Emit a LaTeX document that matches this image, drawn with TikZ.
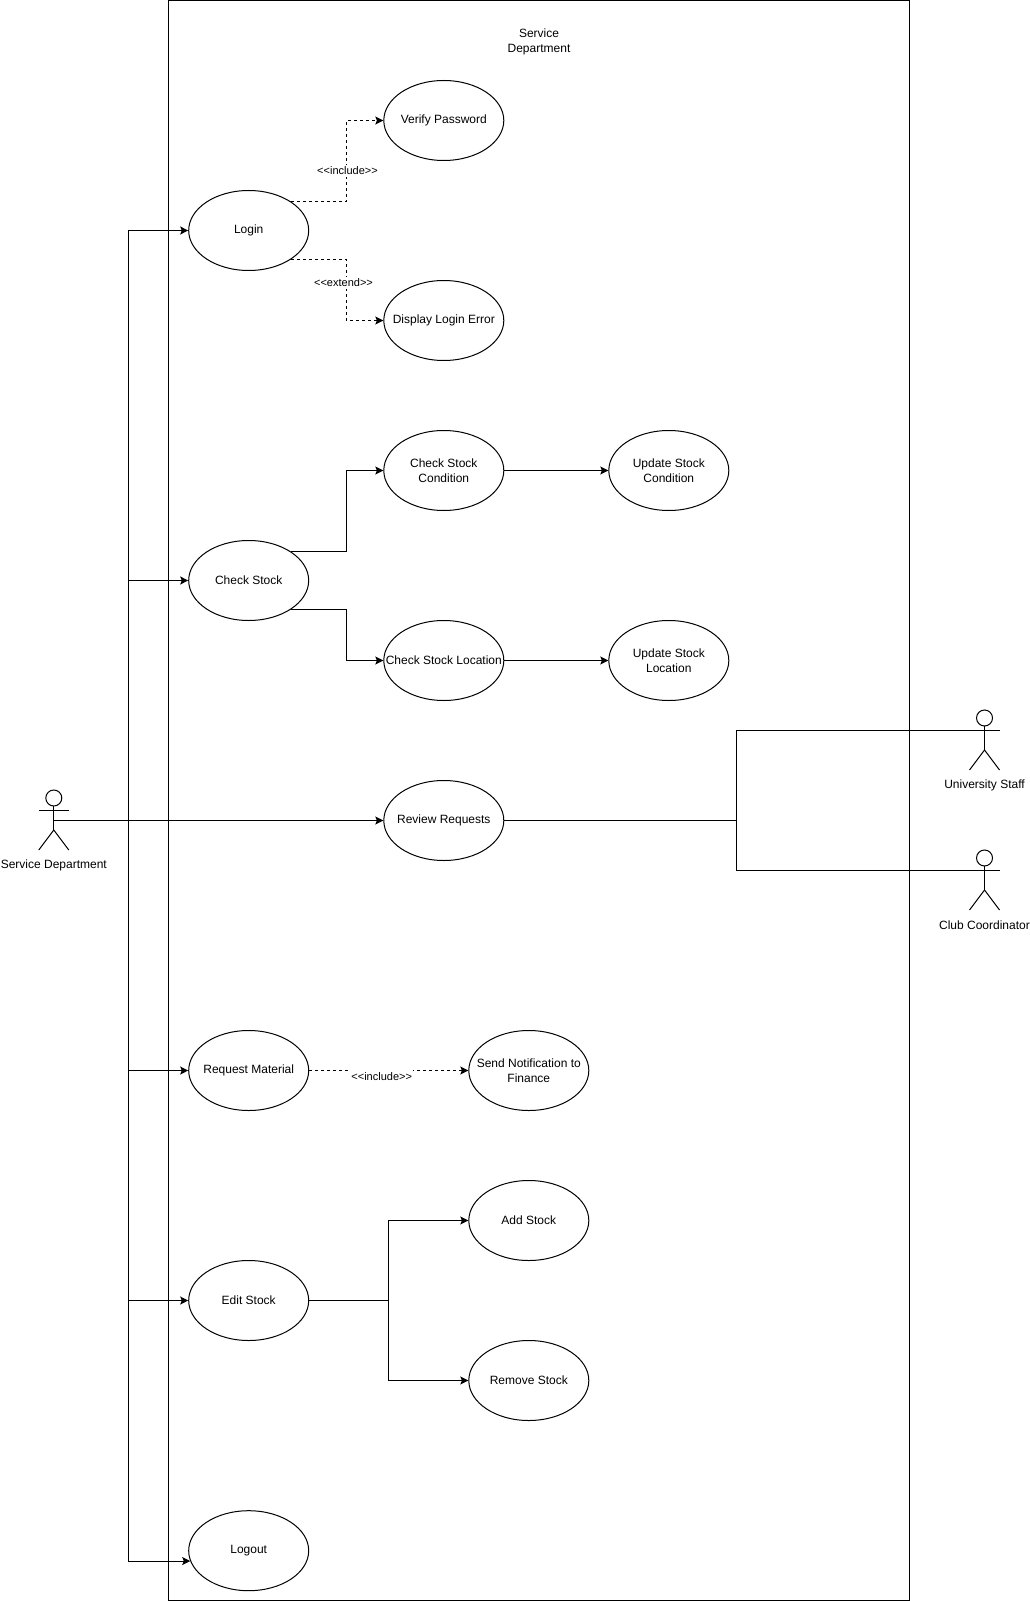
\documentclass[tikz,border=0pt]{standalone}
\usepackage{fontspec}
\setmainfont{Liberation Sans}
\usetikzlibrary{arrows.meta,shapes.geometric}

\tikzset{
    usecase/.style={draw,ellipse,minimum width=90pt,minimum height=60pt,inner ysep=0pt,inner xsep=-30pt,align=center},
    stereo/.style={fill=white,inner xsep=0.5pt,inner ysep=1.5pt,font=\fontsize{8.25}{9.5}\selectfont},
    dep/.style={->,dash pattern=on 2.25pt off 2.25pt}
}

\begin{document}
\begin{tikzpicture}[x=0.75pt,y=-0.75pt,line width=0.75pt,>={Stealth[length=6pt,width=6pt,inset=1.2pt]},
    every node/.append style={font=\fontsize{9}{11.25}\selectfont}]

\useasboundingbox (0,0) rectangle (1029,1601);

\draw (168.3,0.4) rectangle (909,1600);
\node (title) [align=center] at (539,41.5) {Service\\Department};

\node (login)     [usecase] at (248.7,230.5)  {Login};
\node (verify)    [usecase] at (443.8,120.5)  {Verify Password};
\node (loginerr)  [usecase] at (443.8,320.5)  {Display Login Error};

\node (chkstock)  [usecase] at (248.7,580.5)  {Check Stock};
\node (chkcond)   [usecase] at (443.8,470.5)  {Check Stock\\Condition};
\node (chkloc)    [usecase] at (443.8,660.5)  {Check Stock Location};
\node (updcond)   [usecase] at (668.8,470.5)  {Update Stock\\Condition};
\node (updloc)    [usecase] at (668.8,660.5)  {Update Stock\\Location};

\node (review)    [usecase] at (443.8,820.5)  {Review Requests};

\node (reqmat)    [usecase] at (248.7,1070.5) {Request Material};
\node (notify)    [usecase] at (528.8,1070.5) {Send Notification to\\Finance};

\node (editstock) [usecase] at (248.7,1300.5) {Edit Stock};
\node (addstock)  [usecase] at (528.8,1220.5) {Add Stock};
\node (remstock)  [usecase] at (528.8,1380.5) {Remove Stock};

\node (logout)    [usecase] at (248.7,1550.7) {Logout};

% actors
\foreach \a/\x/\y/\t in {sdept/53.8/790/Service Department,ustaff/984.5/710/University Staff,clubco/984.5/850/Club Coordinator}
{
    \draw (\x,\y+8) circle (6pt);
    \draw (\x,\y+16) -- (\x,\y+40);
    \draw (\x-15,\y+20) -- (\x+15,\y+20);
    \draw (\x-15,\y+60) -- (\x,\y+40) -- (\x+15,\y+60);
    \node (\a) at (\x,\y+75) {\t};
}

\coordinate (sdarm) at (53.8,820.5);
\coordinate (usarm) at (969.5,730);
\coordinate (ccarm) at (969.5,870);
\coordinate (bus) at (128.3,820.5);
\coordinate (rrjoin) at (736,820.5);
\coordinate (esjoin) at (388.8,1300.5);
\coordinate (incl) at (346.3,120.5);
\coordinate (extd) at (346.3,320.5);
\coordinate (cond) at (346.3,470.5);
\coordinate (locn) at (346.3,660.5);

\draw[->] (sdarm) -- (review);

\foreach \i in {login,chkstock,reqmat,editstock}
    \draw[->] (bus) |- (\i);
\draw[->] (bus) |- (logout.190);

\draw[dep] (login.north east) -| (incl) -- (verify);
\draw[dep] (login.south east) -| (extd) -- (loginerr);
\draw[dep] (reqmat) -- (notify);

\node (inclab) [stereo] at (347.5,171) {<{}<include>{}>};
\node (extlab) [stereo] at (343.5,283) {<{}<extend>{}>};
\node (reqlab) [stereo,inner ysep=3.5pt] at (381.7,1077) {<{}<include>{}>};

\draw[->] (chkstock.north east) -| (cond) -- (chkcond);
\draw[->] (chkstock.south east) -| (locn) -- (chkloc);
\draw[->] (chkcond) -- (updcond);
\draw[->] (chkloc) -- (updloc);

\draw (review) -- (rrjoin);
\draw (rrjoin) |- (usarm);
\draw (rrjoin) |- (ccarm);

\draw (editstock) -- (esjoin);
\draw[->] (esjoin) |- (addstock);
\draw[->] (esjoin) |- (remstock);

\end{tikzpicture}
\end{document}
